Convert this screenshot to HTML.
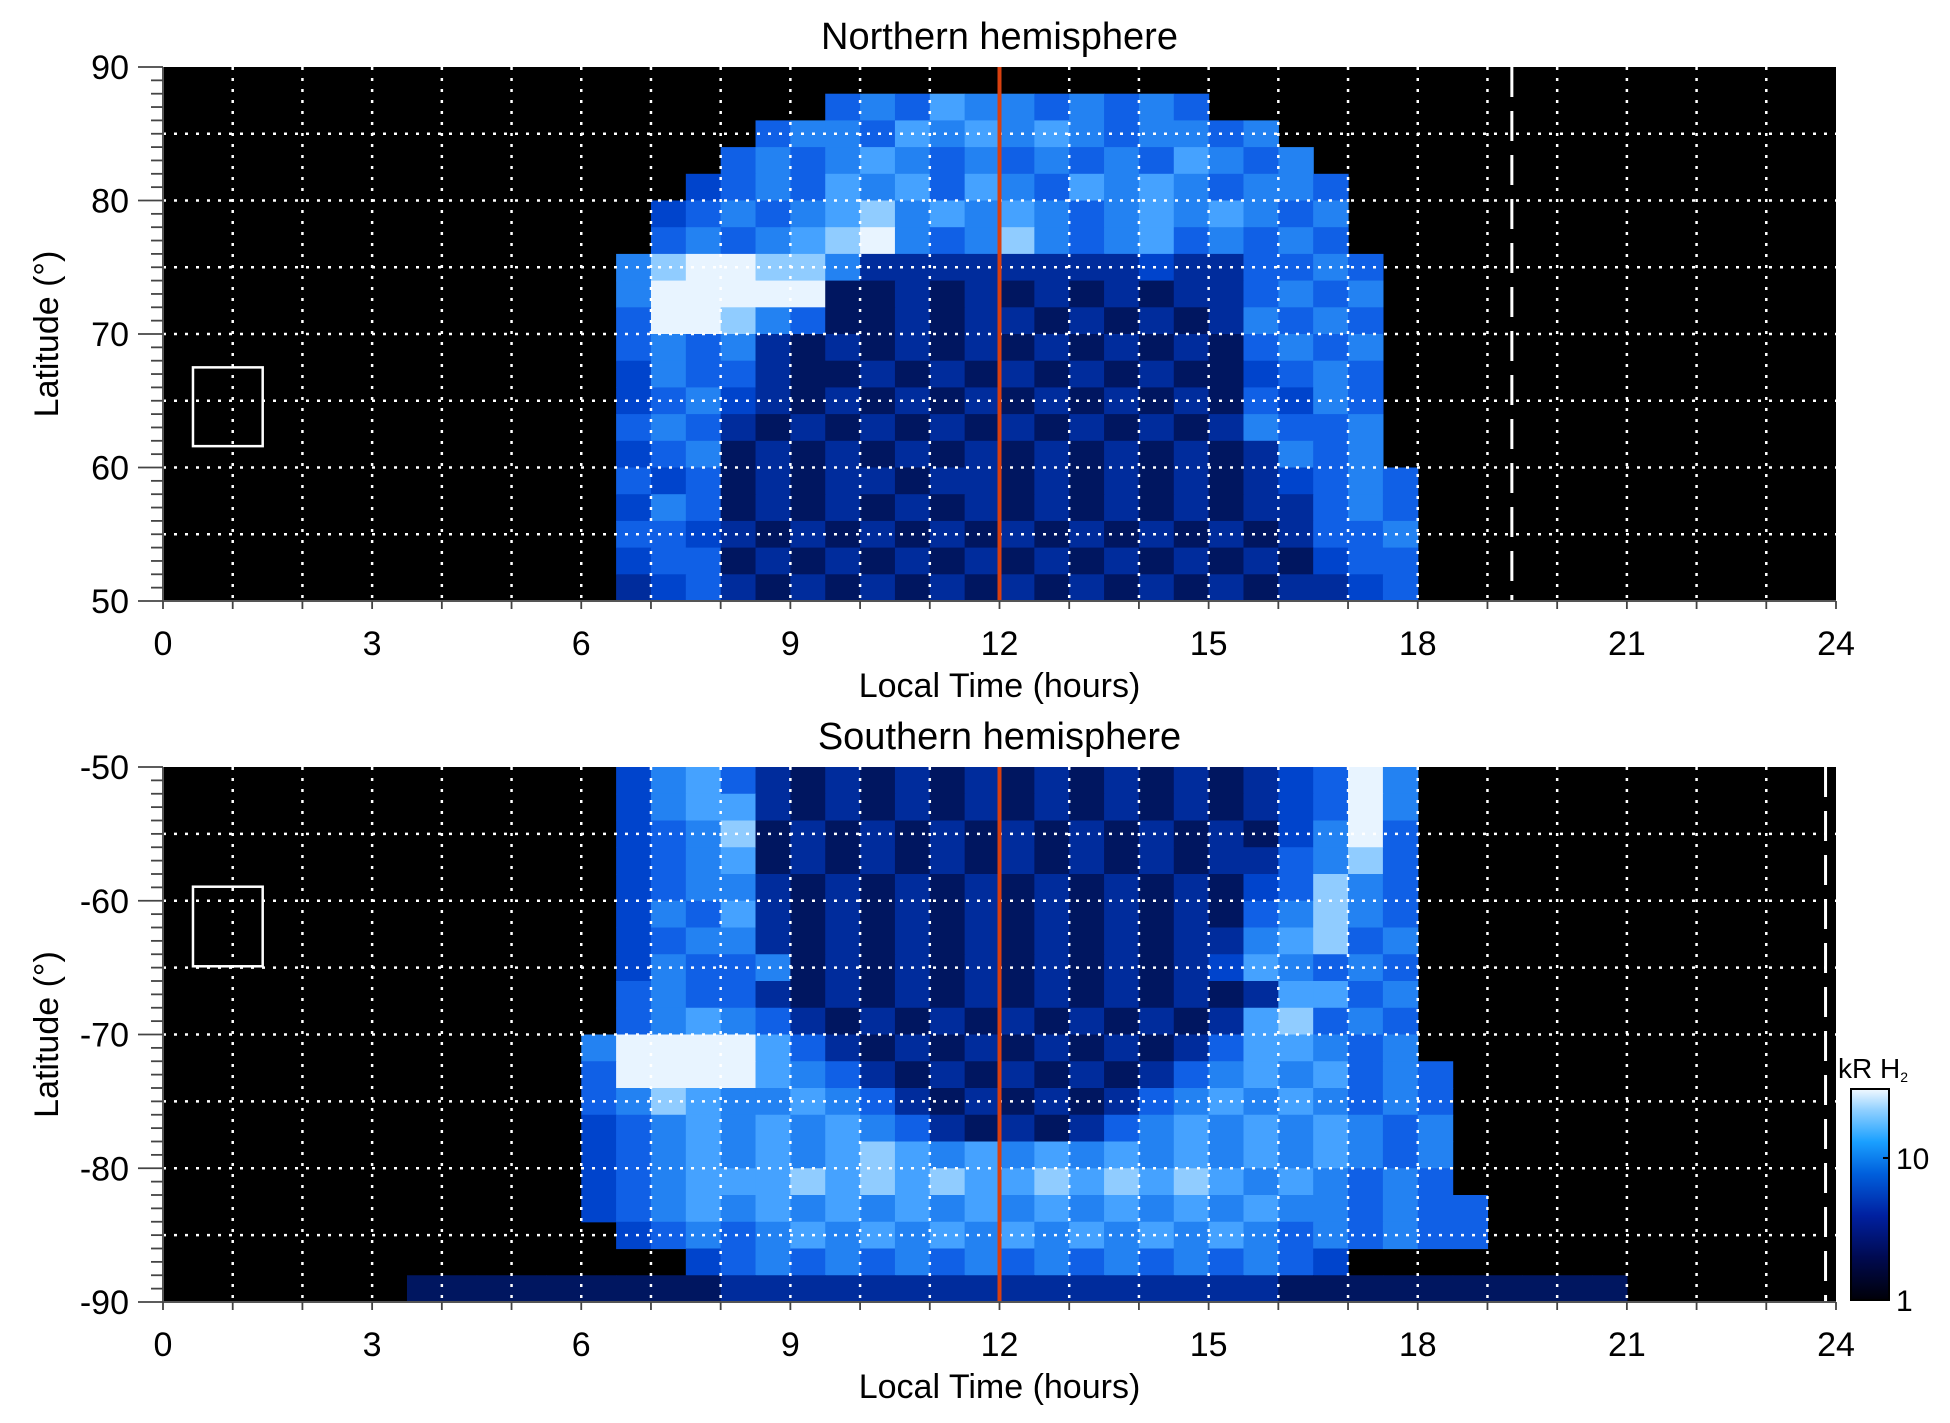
<!DOCTYPE html>
<html><head><meta charset="utf-8"><style>
html,body{margin:0;padding:0;background:#fff;}
svg{display:block;font-family:"Liberation Sans",Arial,sans-serif;}
</style></head><body>
<svg id="fig" width="1950" height="1423" viewBox="0 0 1950 1423" xmlns="http://www.w3.org/2000/svg"></svg>
<script>
// ---- data ----
const ltTicks = [0,3,6,9,12,15,18,21,24];
const northLatTicks = [50,60,70,80,90];
const southLatTicks = [-90,-80,-70,-60,-50];
const cbTicks = [1,10];
const cbMax = 30.6;
// intensity levels 0-9 per 2-deg lat row x 0.5-h LT bin (48 bins), top row first
const northRows = [
"00000000 00000000 00000000 00000000 00000000 00000000",
"00000000 00000000 00056576 65656500 00000000 00000000",
"00000000 00000000 05665767 67656656 00000000 00000000",
"00000000 00000000 56567656 56565765 60000000 00000000",
"00000000 00000004 56576757 65767656 65000000 00000000",
"00000000 00000045 65678676 76567676 56000000 00000000",
"00000000 00000056 56789656 86567565 65000000 00000000",
"00000000 00000689 98863333 33334335 56500000 00000000",
"00000000 00000699 99922323 23232335 65600000 00000000",
"00000000 00000599 86522323 32323236 56500000 00000000",
"00000000 00000565 63232323 23232325 65600000 00000000",
"00000000 00000465 53223232 32323224 56500000 00000000",
"00000000 00000456 43232323 23232325 46500000 00000000",
"00000000 00000565 32323232 32323236 55600000 00000000",
"00000000 00000456 23232323 23232323 65600000 00000000",
"00000000 00000545 23233233 23232323 45650000 00000000",
"00000000 00000465 23232323 23232323 35650000 00000000",
"00000000 00000554 32323232 32323232 35560000 00000000",
"00000000 00000455 23232323 23232323 24550000 00000000",
"00000000 00000345 32323232 32323232 33450000 00000000"
];
const southRows = [
"00000000 00000467 53232323 23232323 45960000 00000000",
"00000000 00000467 73232323 23232323 45960000 00000000",
"00000000 00000456 82323232 32323232 46950000 00000000",
"00000000 00000456 72323232 32323233 56850000 00000000",
"00000000 00000456 63232323 23232324 58650000 00000000",
"00000000 00000465 73232323 23232325 68650000 00000000",
"00000000 00000456 63232323 23232336 78560000 00000000",
"00000000 00000465 56232323 23232347 65650000 00000000",
"00000000 00000565 53232323 23232323 77560000 00000000",
"00000000 00000567 65323232 32323237 85650000 00000000",
"00000000 00006999 97532323 23232357 76560000 00000000",
"00000000 00005999 97653232 32323567 67565000 00000000",
"00000000 00005687 66765323 23235676 76565000 00000000",
"00000000 00004567 67676532 32356767 67656000 00000000",
"00000000 00004567 67678767 67676767 67656000 00000000",
"00000000 00004567 77878787 78787876 76565000 00000000",
"00000000 00004567 67676767 67676767 66565500 00000000",
"00000000 00000456 56767676 76767676 56565500 00000000",
"00000000 00000004 56565656 56565656 54000000 00000000",
"00000002 22222222 33333333 33333333 22222222 22000000"
];
const noonLT = 12;
const northDashLT = 19.35, southDashLT = 23.85;
const northBox = [0.43,1.43,61.6,67.5];
const southBox = [0.43,1.43,-64.9,-58.95];

const palette = ["#000000","#000a38","#001660","#002c9c","#0044cc","#1060e6","#2382f2","#45a2ff","#90ccff","#e8f4ff"];
const NS="http://www.w3.org/2000/svg";
const svg=document.getElementById('fig');
function mk(tag,attrs,parent){const e=document.createElementNS(NS,tag);for(const k in attrs)e.setAttribute(k,attrs[k]);(parent||svg).appendChild(e);return e;}

const X0=163,X1=1836;
function xs(t){return X0+(t/24)*(X1-X0);}

function panel(top,bot,latMin,latMax,rows,ticks,title,dashLT,box,prefix){
  const ys=l=>bot-(l-latMin)/(latMax-latMin)*(bot-top);
  const g=mk('g',{});
  
  
  const bg=mk('rect',{x:X0,y:top,width:X1-X0,height:bot-top,fill:'#000'},g);
  
  
  const nR=rows.length, dLat=(latMax-latMin)/nR;
  rows.forEach((r,ri)=>{
    const vals=r.replace(/ /g,'').split('').map(Number);
    const lt=latMax-ri*dLat, lb=lt-dLat;
    vals.forEach((v,ci)=>{
      if(!v)return;
      const t0=ci*0.5,t1=t0+0.5;
      const c=mk('rect',{x:xs(t0),y:ys(lt),width:xs(t1)-xs(t0)+0.6,height:ys(lb)-ys(lt)+0.6,fill:palette[v]},g);
      
      
    });
  });
  for(let h=1;h<24;h++){
    const l=mk('line',{x1:xs(h),x2:xs(h),y1:top,y2:bot,stroke:'#fff','stroke-width':2.5,'stroke-dasharray':'3 8'},g);
    
    
  }
  for(let la=latMin+5;la<latMax;la+=5){
    const l=mk('line',{x1:X0,x2:X1,y1:ys(la),y2:ys(la),stroke:'#fff','stroke-width':2.5,'stroke-dasharray':'3 8'},g);
    
    
  }
  const rl=mk('line',{x1:xs(noonLT),x2:xs(noonLT),y1:top,y2:bot,stroke:'#d8400f','stroke-width':4},g);
  
  
  const dl=mk('line',{x1:xs(dashLT),x2:xs(dashLT),y1:top,y2:bot,stroke:'#fff','stroke-width':3,'stroke-dasharray':'30 14'},g);
  
  
  const bx=mk('rect',{x:xs(box[0]),y:ys(box[3]),width:xs(box[1])-xs(box[0]),height:ys(box[2])-ys(box[3]),fill:'none',stroke:'#fff','stroke-width':2.5},g);
  
  
  const ax=mk('path',{d:`M${X0} ${top}V${bot}H${X1}`,stroke:'#555','stroke-width':2,fill:'none'},g);
  
  
  for(let la=latMin;la<=latMax;la++){
    const major=(la%10===0);
    const tk=mk('line',{x1:X0-(major?25:12),x2:X0,y1:ys(la),y2:ys(la),stroke:'#444','stroke-width':1.8},g);
    
    
  }
  ticks.forEach(v=>{
    const t=mk('text',{x:129,y:ys(v)+12,'font-size':34,'text-anchor':'end',fill:'#000'},g);
    t.textContent=v;
    
    
  });
  for(let h=0;h<=24;h++){
    const tk=mk('line',{x1:xs(h),x2:xs(h),y1:bot,y2:bot+8,stroke:'#444','stroke-width':1.8},g);
    
    
  }
  ltTicks.forEach(v=>{
    const t=mk('text',{x:xs(v),y:bot+54,'font-size':34,'text-anchor':'middle',fill:'#000'},g);
    t.textContent=v;
    
    
  });
  const xl=mk('text',{x:(X0+X1)/2,y:bot+96,'font-size':34,'text-anchor':'middle'},g);
  xl.textContent='Local Time (hours)';
  
  
  const cy=(top+bot)/2;
  const yl=mk('text',{x:58,y:cy,'font-size':34,'text-anchor':'middle',transform:`rotate(-90 58 ${cy})`},g);
  yl.textContent='Latitude (°)';
  
  
  const ti=mk('text',{x:(X0+X1)/2,y:top-18,'font-size':38,'text-anchor':'middle'},g);
  ti.textContent=title;
  
  
}
panel(67,601,50,90,northRows,northLatTicks,'Northern hemisphere',northDashLT,northBox,'north');
panel(767,1302,-90,-50,southRows,southLatTicks,'Southern hemisphere',southDashLT,southBox,'south');

const CBX=1851,CBW=38,CBT=1089,CBB=1300;
const cbLog=v=>CBB-Math.log10(v)/Math.log10(cbMax)*(CBB-CBT);
const defs=mk('defs',{});
const grad=mk('linearGradient',{id:'cbg',x1:0,y1:1,x2:0,y2:0},defs);
[["0","#000008"],["0.2","#000a50"],["0.4","#0020a0"],["0.6","#0060dd"],["0.75","#1aa0ff"],["0.9","#90d0ff"],["1","#f2f9ff"]].forEach(s=>mk('stop',{offset:s[0],'stop-color':s[1]},grad));
const cb=mk('rect',{x:CBX,y:CBT,width:CBW,height:CBB-CBT,fill:'url(#cbg)',stroke:'#000','stroke-width':2});


cbTicks.forEach(v=>{
  const t=mk('text',{x:CBX+CBW+7,y:cbLog(v)+11,'font-size':30});
  t.textContent=v;
  
  
  const tk=mk('line',{x1:CBX+CBW-6,x2:CBX+CBW,y1:cbLog(v),y2:cbLog(v),stroke:'#000','stroke-width':2});
  
  
});
const cbl=mk('text',{x:1838,y:1078,'font-size':28});
cbl.innerHTML='kR H<tspan font-size="14" dy="4">2</tspan>';


</script>
</body></html>
